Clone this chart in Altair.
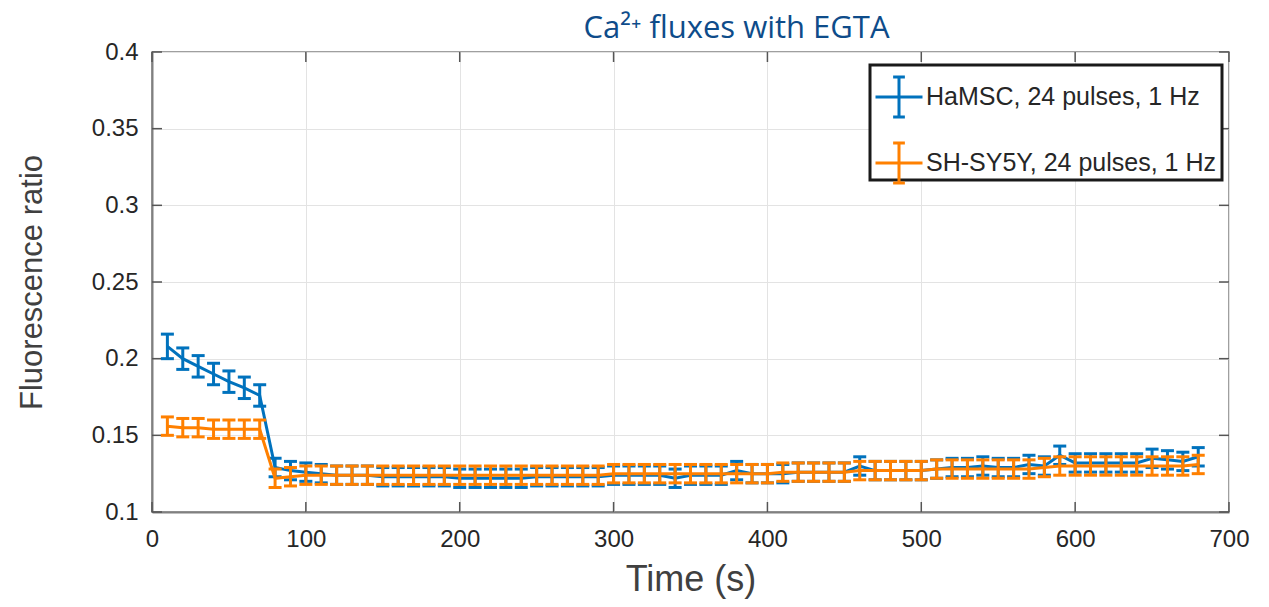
import altair as alt
import pandas as pd

time_s = list(range(10, 690, 10))

hamsc_mean = [0.208, 0.200, 0.195, 0.190, 0.185, 0.181, 0.176,
              0.129, 0.127, 0.126, 0.125, 0.124, 0.124, 0.124, 0.123, 0.123,
              0.123, 0.123, 0.123, 0.122, 0.122, 0.122, 0.122, 0.122, 0.123,
              0.123, 0.123, 0.123, 0.123, 0.124, 0.124, 0.124, 0.124, 0.122,
              0.124, 0.124, 0.124, 0.127, 0.125, 0.125, 0.125, 0.126, 0.126,
              0.126, 0.126, 0.130, 0.127, 0.127, 0.127, 0.127, 0.128, 0.129,
              0.129, 0.130, 0.129, 0.129, 0.131, 0.130, 0.137, 0.132, 0.132,
              0.132, 0.132, 0.132, 0.135, 0.134, 0.133, 0.136]
hamsc_err = [0.008, 0.007, 0.007, 0.007, 0.007, 0.007, 0.007] + [0.006] * 61

sh_mean = [0.156, 0.155, 0.155, 0.154, 0.154, 0.154, 0.154,
           0.122, 0.123, 0.124, 0.124, 0.124, 0.124, 0.124, 0.124, 0.124,
           0.124, 0.124, 0.124, 0.124, 0.124, 0.124, 0.124, 0.124, 0.124,
           0.124, 0.124, 0.124, 0.124, 0.125, 0.125, 0.125, 0.125, 0.125,
           0.125, 0.125, 0.125, 0.125, 0.125, 0.125, 0.126, 0.126, 0.126,
           0.126, 0.126, 0.127, 0.127, 0.127, 0.127, 0.127, 0.128, 0.128,
           0.128, 0.128, 0.128, 0.128, 0.128, 0.129, 0.130, 0.130, 0.130,
           0.130, 0.130, 0.130, 0.130, 0.130, 0.130, 0.131]
sh_err = [0.006] * 68

series_names = ["HaMSC, 24 pulses, 1 Hz", "SH-SY5Y, 24 pulses, 1 Hz"]
series_colors = ["#0072BD", "#FF8000"]

x_ticks = [0, 100, 200, 300, 400, 500, 600, 700]
y_ticks = [0.1, 0.15, 0.2, 0.25, 0.3, 0.35, 0.4]

rows = []
for name, means, errs in [(series_names[0], hamsc_mean, hamsc_err),
                          (series_names[1], sh_mean, sh_err)]:
    for t, m, e in zip(time_s, means, errs):
        rows.append({"time": t, "mean": m, "lo": m - e, "hi": m + e, "series": name})
df = pd.DataFrame(rows)

FONT = "Liberation Sans"
W, H = 1077, 460

xscale = alt.Scale(domain=[0, 700], nice=False, zero=False)
yscale = alt.Scale(domain=[0.1, 0.4], nice=False, zero=False)
cscale = alt.Scale(domain=series_names, range=series_colors)

base = alt.Chart(df)

xaxis = alt.Axis(values=x_ticks, grid=True, ticks=False, labelFontSize=24,
                 labelFont=FONT, labelColor="#262626", labelPadding=15,
                 labelFlush=False,
                 title="Time (s)", titleFont=FONT, titleFontSize=36,
                 titleFontWeight="normal", titleColor="#404040", titlePadding=11,
                 domainColor="#808080", domainWidth=2, gridColor="#E3E3E3")
yaxis = alt.Axis(values=y_ticks, grid=True, ticks=False, format=".2~f",
                 labelFontSize=24, labelFont=FONT, labelColor="#262626",
                 labelPadding=14, labelFlush=False,
                 title="Fluorescence ratio", titleFont=FONT,
                 titleFontSize=31, titleFontWeight="normal", titleColor="#404040",
                 titlePadding=43, domainColor="#808080", domainWidth=2,
                 gridColor="#E3E3E3")

legend = alt.Legend(
    title=None, orient="none", legendX=722, legendY=20, zindex=2,
    symbolType="M-1,0H1M0,-0.85V0.85M-0.25,-0.85H0.25M-0.25,0.85H0.25",
    symbolSize=2209, symbolStrokeWidth=3, symbolOpacity=1, labelFont=FONT,
    labelFontSize=25, labelColor="#262626", labelOffset=2,
    rowPadding=14, padding=0, labelLimit=400,
)

layers = []
for i, name in enumerate(series_names):
    sub = base.transform_filter(alt.datum.series == name)
    eb = sub.mark_errorbar(ticks=True, size=13, thickness=3, opacity=1).encode(
        x=alt.X("time:Q", scale=xscale, axis=xaxis),
        y=alt.Y("lo:Q", scale=yscale, axis=yaxis),
        y2="hi:Q",
        color=alt.Color("series:N", scale=cscale, legend=legend),
    )
    ln = sub.mark_line(strokeWidth=3, opacity=1).encode(
        x=alt.X("time:Q", scale=xscale),
        y=alt.Y("mean:Q", scale=yscale),
        color=alt.Color("series:N", scale=cscale, legend=legend),
    )
    layers += [eb, ln]

# inward tick marks (MATLAB style)
xt = alt.Chart(pd.DataFrame({"t": x_ticks}))
yt = alt.Chart(pd.DataFrame({"v": y_ticks}))
tick_layers = [
    xt.mark_rule(color="#555555", strokeWidth=1.5).encode(
        x=alt.X("t:Q", scale=xscale), y=alt.value(H), y2=alt.value(H - 10)),
    xt.mark_rule(color="#555555", strokeWidth=1.5).encode(
        x=alt.X("t:Q", scale=xscale), y=alt.value(0), y2=alt.value(10)),
    yt.mark_rule(color="#555555", strokeWidth=1.5).encode(
        y=alt.Y("v:Q", scale=yscale), x=alt.value(0), x2=alt.value(10)),
    yt.mark_rule(color="#555555", strokeWidth=1.5).encode(
        y=alt.Y("v:Q", scale=yscale), x=alt.value(W), x2=alt.value(W - 10)),
]

legend_box = alt.Chart(pd.DataFrame({"a": [0]})).mark_rect(
    fill="white", stroke="#1a1a1a", strokeWidth=3).encode(
    x=alt.value(718), x2=alt.value(1070), y=alt.value(13), y2=alt.value(128))

chart = alt.layer(*tick_layers, *layers, legend_box).properties(
    width=W, height=H,
    autosize=alt.AutoSizeParams(type="none"),
    padding={"left": 144, "top": 44, "right": 32, "bottom": 87},
    title=alt.TitleParams(
        text="Ca²⁺ fluxes with EGTA", font="Open Sans", fontSize=31,
        fontWeight="normal", color="#0E4C8A", anchor="middle", dx=46, dy=17,
        offset=12),
).configure_view(stroke="#808080", strokeWidth=1.5).resolve_scale(color="shared")

chart.save("out.html", embed_options={"renderer": "svg", "actions": False})
